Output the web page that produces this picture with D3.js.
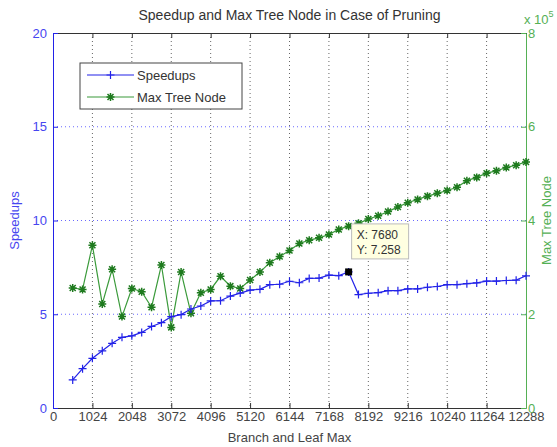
<!DOCTYPE html>
<html>
<head>
<meta charset="utf-8">
<script src="https://cdn.jsdelivr.net/npm/d3@7"></script>
<style>
  body { margin: 0; background: #fff; }
  svg text { font-family: "Liberation Sans", Arial, sans-serif; }
</style>
</head>
<body>
<svg width="557" height="447"></svg>
<script>
// branch and leaf max (x), speedups (left axis), max tree node (right axis)
const branchMax = [512, 768, 1024, 1280, 1536, 1792, 2048, 2304, 2560, 2816,
  3072, 3328, 3584, 3840, 4096, 4352, 4608, 4864, 5120, 5376,
  5632, 5888, 6144, 6400, 6656, 6912, 7168, 7424, 7680, 7936,
  8192, 8448, 8704, 8960, 9216, 9472, 9728, 9984, 10240, 10496,
  10752, 11008, 11264, 11520, 11776, 12032, 12288];
const speedups = [1.5, 2.1, 2.65, 3.05, 3.45, 3.77, 3.85, 4.03, 4.35, 4.55,
  4.87, 4.98, 5.28, 5.44, 5.71, 5.72, 5.97, 6.13, 6.29, 6.33,
  6.58, 6.6, 6.76, 6.68, 6.91, 6.93, 7.09, 7.06, 7.258, 6.05,
  6.12, 6.15, 6.26, 6.26, 6.35, 6.35, 6.44, 6.48, 6.58, 6.58,
  6.63, 6.67, 6.77, 6.77, 6.8, 6.82, 7.05];
const maxTreeNode = [256000, 253000, 347000, 222000, 296000, 195000, 255000, 248000, 215000, 305000,
  172000, 290000, 202000, 246000, 253000, 281000, 260000, 255000, 273000, 290000,
  310000, 323000, 336000, 351000, 358000, 363000, 370000, 381000, 388000, 394000,
  403000, 410000, 419000, 429000, 438000, 445000, 452000, 458000, 464000, 471000,
  485000, 492000, 501000, 506000, 513000, 518000, 525000];
const xTicks = [0, 1024, 2048, 3072, 4096, 5120, 6144, 7168, 8192, 9216, 10240, 11264, 12288];
const speedupTicks = [0, 5, 10, 15, 20];
const nodeTicks = [0, 200000, 400000, 600000, 800000];
const tip = { x: 7680, y: 7.258 };

const blue = '#2222e8';
const blueText = '#4646f0';
const green = '#3a9a3a';
const greenDark = '#1e7a1e';
const greenText = '#55b055';

const svg = d3.select('svg');
const margin = { top: 33, right: 31, bottom: 39, left: 53 };
const width = +svg.attr('width');
const height = +svg.attr('height');
const w = width - margin.left - margin.right;
const h = height - margin.top - margin.bottom;

const x = d3.scaleLinear().domain([0, 12288]).range([margin.left, margin.left + w]);
const yL = d3.scaleLinear().domain([0, 20]).range([margin.top + h, margin.top]);
const yR = d3.scaleLinear().domain([0, 800000]).range([margin.top + h, margin.top]);

// grid
svg.append('g').selectAll('line')
  .data(xTicks.slice(1, -1))
  .enter().append('line')
  .attr('x1', d => x(d)).attr('x2', d => x(d))
  .attr('y1', margin.top).attr('y2', margin.top + h)
  .attr('stroke', '#666').attr('stroke-width', 1)
  .attr('stroke-dasharray', '1,3');
svg.append('g').selectAll('line')
  .data(speedupTicks.slice(1, -1))
  .enter().append('line')
  .attr('x1', margin.left).attr('x2', margin.left + w)
  .attr('y1', d => yL(d)).attr('y2', d => yL(d))
  .attr('stroke', '#6a6aff').attr('stroke-width', 1)
  .attr('stroke-dasharray', '1,3');

// axes
const tickFont = (g) => g.selectAll('text').style('font-size', '13px');

const bottomAxis = svg.append('g')
  .attr('transform', `translate(0,${margin.top + h})`)
  .call(d3.axisBottom(x).tickValues(xTicks).tickFormat(d3.format('d'))
    .tickSizeInner(-5).tickSizeOuter(0).tickPadding(4))
  .call(tickFont);
bottomAxis.select('.domain').attr('stroke', '#333');
bottomAxis.selectAll('.tick line').attr('stroke', '#333');
bottomAxis.selectAll('text').attr('fill', '#444');

const topAxis = svg.append('g')
  .attr('transform', `translate(0,${margin.top})`)
  .call(d3.axisTop(x).tickValues(xTicks).tickFormat('')
    .tickSizeInner(-5).tickSizeOuter(0));
topAxis.select('.domain').attr('stroke', '#333');
topAxis.selectAll('.tick line').attr('stroke', '#333');

const leftAxis = svg.append('g')
  .attr('transform', `translate(${margin.left},0)`)
  .call(d3.axisLeft(yL).tickValues(speedupTicks)
    .tickSizeInner(-5).tickSizeOuter(0).tickPadding(6))
  .call(tickFont);
leftAxis.select('.domain').attr('stroke', blue);
leftAxis.selectAll('.tick line').attr('stroke', blue);
leftAxis.selectAll('text').attr('fill', blueText);

const rightAxis = svg.append('g')
  .attr('transform', `translate(${margin.left + w},0)`)
  .call(d3.axisRight(yR).tickValues(nodeTicks).tickFormat(d => d / 100000)
    .tickSizeInner(-5).tickSizeOuter(0).tickPadding(2))
  .call(tickFont);
rightAxis.select('.domain').attr('stroke', greenText);
rightAxis.selectAll('.tick line').attr('stroke', greenText);
rightAxis.selectAll('text').attr('fill', greenText);

// exponent label
const expo = svg.append('text')
  .attr('x', margin.left + w - 2)
  .attr('y', 24)
  .attr('fill', greenText)
  .style('font-size', '13px')
  .text('x 10');
expo.append('tspan')
  .attr('dy', -7)
  .style('font-size', '9px')
  .text('5');

// titles
svg.append('text')
  .attr('x', margin.left + w / 2)
  .attr('y', 20)
  .attr('text-anchor', 'middle')
  .attr('fill', '#333')
  .style('font-size', '14px')
  .text('Speedup and Max Tree Node in Case of Pruning');

svg.append('text')
  .attr('x', margin.left + w / 2)
  .attr('y', 442)
  .attr('text-anchor', 'middle')
  .attr('fill', '#444')
  .style('font-size', '13px')
  .text('Branch and Leaf Max');

svg.append('text')
  .attr('transform', `translate(19,${margin.top + h / 2}) rotate(-90)`)
  .attr('text-anchor', 'middle')
  .attr('fill', blueText)
  .style('font-size', '13px')
  .text('Speedups');

svg.append('text')
  .attr('transform', `translate(551,${margin.top + h / 2}) rotate(-90)`)
  .attr('text-anchor', 'middle')
  .attr('fill', greenText)
  .style('font-size', '13px')
  .text('Max Tree Node');

// series
const plusPath = 'M-4,0H4M0,-4V4';
const starPath = 'M-4,0H4M0,-4V4M-3,-3L3,3M-3,3L3,-3';

const nodeLine = d3.line().x((d, i) => x(branchMax[i])).y(d => yR(d));
svg.append('path')
  .datum(maxTreeNode)
  .attr('d', nodeLine)
  .attr('fill', 'none')
  .attr('stroke', green)
  .attr('stroke-width', 1.2);
svg.append('g').selectAll('path')
  .data(maxTreeNode)
  .enter().append('path')
  .attr('transform', (d, i) => `translate(${x(branchMax[i])},${yR(d)})`)
  .attr('d', starPath)
  .attr('stroke', greenDark)
  .attr('stroke-width', 1.5);

const speedLine = d3.line().x((d, i) => x(branchMax[i])).y(d => yL(d));
svg.append('path')
  .datum(speedups)
  .attr('d', speedLine)
  .attr('fill', 'none')
  .attr('stroke', blue)
  .attr('stroke-width', 1.2);
svg.append('g').selectAll('path')
  .data(speedups)
  .enter().append('path')
  .attr('transform', (d, i) => `translate(${x(branchMax[i])},${yL(d)})`)
  .attr('d', plusPath)
  .attr('stroke', blue)
  .attr('stroke-width', 1.2);

// data tip
const tx = x(tip.x);
const ty = yL(tip.y);
svg.append('rect')
  .attr('x', tx - 3.5).attr('y', ty - 3.5)
  .attr('width', 7).attr('height', 7)
  .attr('fill', '#000');
const tipG = svg.append('g').attr('transform', `translate(${tx + 3},${ty - 48})`);
tipG.append('rect')
  .attr('width', 57).attr('height', 35)
  .attr('fill', '#ffffe1')
  .attr('stroke', '#bbb');
tipG.append('text')
  .attr('x', 5).attr('y', 15)
  .attr('fill', '#333')
  .style('font-size', '12px')
  .text(`X: ${tip.x}`);
tipG.append('text')
  .attr('x', 5).attr('y', 30)
  .attr('fill', '#333')
  .style('font-size', '12px')
  .text(`Y: ${tip.y}`);

// legend
const legend = svg.append('g').attr('transform', 'translate(80,63)');
legend.append('rect')
  .attr('width', 162).attr('height', 46)
  .attr('fill', '#fff')
  .attr('stroke', '#444');
const items = [
  { name: 'Speedups', color: blue, marker: plusPath, mColor: blue, mWidth: 1.2 },
  { name: 'Max Tree Node', color: green, marker: starPath, mColor: greenDark, mWidth: 1.5 }
];
items.forEach((it, i) => {
  const cy = 12 + i * 22;
  legend.append('line')
    .attr('x1', 7).attr('x2', 54)
    .attr('y1', cy).attr('y2', cy)
    .attr('stroke', it.color).attr('stroke-width', 1.2);
  legend.append('path')
    .attr('transform', `translate(30.5,${cy})`)
    .attr('d', it.marker)
    .attr('stroke', it.mColor)
    .attr('stroke-width', it.mWidth);
  legend.append('text')
    .attr('x', 57).attr('y', cy + 4.5)
    .attr('fill', '#333')
    .style('font-size', '13px')
    .text(it.name);
});
</script>
</body>
</html>
